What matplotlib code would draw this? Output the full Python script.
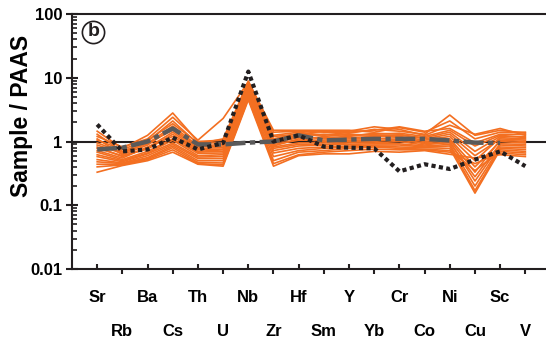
import matplotlib
matplotlib.use("Agg")
import matplotlib.pyplot as plt
from matplotlib.ticker import FixedLocator, FixedFormatter, LogLocator, NullFormatter
import numpy as np

plt.rcParams['font.family'] = ['Liberation Sans', 'DejaVu Sans']
plt.rcParams['font.weight'] = 'bold'

# element order along the x axis
elements = ['Sr', 'Rb', 'Ba', 'Cs', 'Th', 'U', 'Nb', 'Zr', 'Hf',
            'Sm', 'Y', 'Yb', 'Cr', 'Co', 'Ni', 'Cu', 'Sc', 'V']

# PAAS-normalised sample patterns
samples = [
    [1.45, 0.78, 1.25, 2.80, 1.00, 1.05, 8.9, 1.40, 1.45, 1.40, 1.35, 1.55, 1.45, 1.30, 2.60, 1.25, 1.50, 1.35],
    [1.20, 0.82, 1.10, 2.40, 1.05, 2.30, 8.6, 1.50, 1.50, 1.50, 1.50, 1.40, 1.65, 1.40, 2.10, 1.10, 1.40, 1.40],
    [1.30, 0.70, 1.00, 2.10, 0.92, 1.10, 8.3, 1.20, 1.30, 1.45, 1.45, 1.70, 1.55, 1.25, 1.80, 1.30, 1.60, 1.25],
    [1.05, 0.75, 1.05, 1.90, 0.95, 0.95, 8.0, 1.25, 1.40, 1.25, 1.40, 1.50, 1.70, 1.45, 1.60, 0.95, 1.30, 1.30],
    [0.95, 0.68, 0.92, 1.75, 0.85, 0.90, 7.7, 1.05, 1.25, 1.30, 1.25, 1.30, 1.35, 1.20, 1.50, 0.85, 1.25, 1.15],
    [1.10, 0.62, 0.88, 1.60, 0.82, 0.85, 7.4, 1.10, 1.35, 1.20, 1.30, 1.25, 1.25, 1.15, 1.40, 0.70, 1.20, 1.20],
    [0.88, 0.65, 0.95, 1.50, 0.78, 0.80, 7.1, 0.95, 1.15, 1.15, 1.20, 1.35, 1.30, 1.10, 1.30, 0.60, 1.10, 1.05],
    [0.82, 0.58, 0.80, 1.40, 0.74, 0.76, 6.9, 1.00, 1.20, 1.10, 1.15, 1.20, 1.20, 1.05, 1.20, 0.50, 1.15, 1.10],
    [0.78, 0.60, 0.76, 1.30, 0.70, 0.74, 6.6, 0.90, 1.05, 1.05, 1.10, 1.10, 1.15, 1.00, 1.10, 0.40, 1.00, 0.95],
    [0.72, 0.55, 0.82, 1.20, 0.68, 0.70, 6.3, 0.85, 1.10, 1.00, 1.05, 1.05, 1.05, 0.95, 1.05, 0.33, 1.05, 1.00],
    [0.68, 0.52, 0.70, 1.10, 0.65, 0.66, 6.1, 0.82, 0.95, 0.95, 1.00, 1.00, 1.10, 0.92, 0.95, 0.28, 0.92, 0.90],
    [0.62, 0.50, 0.66, 1.05, 0.60, 0.62, 5.9, 0.78, 0.90, 0.90, 0.95, 0.95, 1.00, 0.88, 1.00, 0.24, 0.88, 0.85],
    [0.58, 0.48, 0.64, 0.95, 0.57, 0.58, 5.6, 0.72, 0.85, 0.88, 0.90, 0.92, 0.92, 0.85, 0.90, 0.20, 0.82, 0.80],
    [0.52, 0.46, 0.60, 0.90, 0.54, 0.54, 5.4, 0.66, 0.78, 0.82, 0.85, 0.88, 0.88, 0.82, 0.85, 0.17, 0.78, 0.75],
    [0.48, 0.45, 0.56, 0.85, 0.50, 0.50, 5.1, 0.58, 0.72, 0.78, 0.82, 0.85, 0.82, 0.80, 0.78, 0.155, 0.74, 0.70],
    [0.44, 0.44, 0.54, 0.80, 0.47, 0.46, 4.9, 0.50, 0.68, 0.72, 0.78, 0.82, 0.78, 0.76, 0.72, 0.35, 0.70, 0.66],
    [0.40, 0.43, 0.52, 0.74, 0.45, 0.43, 4.7, 0.45, 0.62, 0.68, 0.72, 0.76, 0.74, 0.74, 0.68, 0.45, 0.66, 0.62],
    [0.33, 0.42, 0.50, 0.68, 0.44, 0.41, 4.5, 0.41, 0.60, 0.64, 0.64, 0.70, 0.68, 0.72, 0.63, 0.55, 0.62, 0.58],
]

# reference pattern (dash-dot, Sr..Sc) and dotted pattern (Sr..V)
ref_dashdot = [0.75, 0.80, 1.00, 1.60, 0.90, 0.90, 0.96, 1.00, 1.25, 1.04,
               1.07, 1.10, 1.10, 1.10, 1.04, 0.96, 0.95]
ref_dotted = [1.85, 0.70, 0.75, 1.15, 0.75, 0.95, 12.5, 1.00, 1.25, 0.83,
              0.80, 0.78, 0.34, 0.44, 0.37, 0.52, 0.70, 0.41]

orange = '#F36F21'
ink = '#231F20'

fig = plt.figure(figsize=(5.46, 3.43), dpi=100)
ax = fig.add_axes([72/546, 1-269/343, 1-72/546, 255/343])

x = np.arange(len(elements))
for s in samples:
    ax.plot(x, s, color=orange, lw=1.2, zorder=2)

ax.plot(x[:len(ref_dashdot)], ref_dashdot, color='#5A5A5A', lw=3.2,
        dashes=(4.5, 1.0, 1.2, 1.0), zorder=3)
ax.plot(x, ref_dotted, color=ink, lw=3.0, dashes=(1.0, 0.8), zorder=4)

ax.axhline(1, color=ink, lw=1.5, zorder=1)

ax.set_yscale('log')
ax.set_ylim(0.01, 100)
ax.set_xlim(-1, 17.82)

ax.spines['right'].set_visible(False)
for sp in ['left', 'bottom', 'top']:
    ax.spines[sp].set_linewidth(1.5)
    ax.spines[sp].set_color(ink)

ax.set_yticks([0.01, 0.1, 1, 10, 100])
ax.set_yticklabels(['0.01', '0.1', '1', '10', '100'])
ax.yaxis.set_minor_locator(LogLocator(base=10, subs=np.arange(2, 10)))
ax.yaxis.set_minor_formatter(NullFormatter())
ax.tick_params(axis='y', which='major', direction='inout', length=8, width=1.5,
               color=ink, labelsize=12, pad=3)
ax.tick_params(axis='y', which='minor', direction='in', length=3.5, width=1.2, color=ink)

# alternate element labels on two rows
ax.xaxis.set_major_locator(FixedLocator(x[::2]))
ax.xaxis.set_major_formatter(FixedFormatter(elements[::2]))
ax.xaxis.set_minor_locator(FixedLocator(x[1::2]))
ax.xaxis.set_minor_formatter(FixedFormatter(elements[1::2]))
ax.tick_params(axis='x', which='major', direction='in', length=3.6, width=1.5,
               color=ink, labelsize=12, pad=15)
ax.tick_params(axis='x', which='minor', direction='out', length=3.6, width=1.5,
               color=ink, labelsize=12, pad=36)

ax.set_ylabel('Sample / PAAS', fontsize=16.5, fontweight='bold')
ax.yaxis.set_label_coords(-0.082, 0.6)

# panel letter
ax.plot([0.045], [0.931], 'o', ms=16, mfc='none', mec=ink, mew=1.2,
        transform=ax.transAxes, clip_on=False)
ax.text(0.045, 0.931, 'b', transform=ax.transAxes, ha='center', va='center',
        fontsize=14, fontweight='bold', color=ink)

fig.savefig('out.png', dpi=100)
